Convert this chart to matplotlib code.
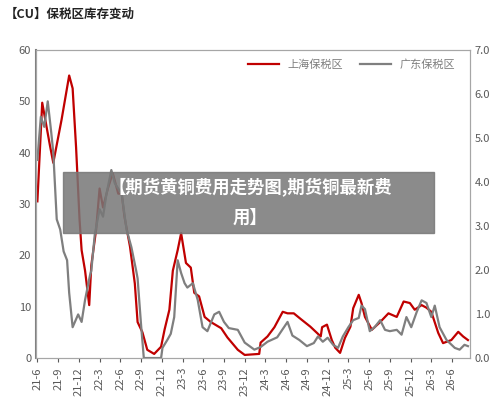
import matplotlib
matplotlib.use("Agg")
import matplotlib.pyplot as plt
from matplotlib.patches import Rectangle

plt.rcParams['font.family'] = ['Noto Sans CJK SC', 'DejaVu Sans']

# months since 2021-06
tick_labels = ['21-6','21-9','21-12','22-3','22-6','22-9','22-12','23-3','23-6','23-9','23-12',
               '24-3','24-6','24-9','24-12','25-3','25-6','25-9','25-12','26-3','26-6']

sh_month = [0,0.7,1.8,2.3,3.5,4.6,5.1,5.6,6.1,6.4,6.9,7.5,7.8,8.5,9,9.5,10.2,10.9,11.7,12.2,12.6,13.4,
            14.1,14.5,15.2,15.9,16.9,17.9,18.4,19.1,19.6,20.3,20.8,21.5,22.2,22.7,23.4,24.2,25.1,26.6,
            27.5,29,30,32.1,32.3,33.3,34.3,35.5,36.2,37.1,38.1,39.5,41,41.2,41.9,42.6,43.1,43.8,44.5,
            45.3,45.7,46.5,46.9,47.4,48.4,49.6,50.8,52,53,53.9,54.6,55.6,56.3,57,58,58.7,59.9,60.9,61.6,62.3]
sh_val = [30.5,49.7,41.5,38,46.4,55,52.5,41,27,21,17,10.3,18,25,33,29.3,33,36,32,32,27.5,21.7,
          14.5,7,5,1.6,0.8,2.2,5.5,9.4,17,21,24.3,18.5,17.6,12.7,12,8,7,5.8,
          4,1.6,0.6,0.8,3,4.2,6,9,8.7,8.7,7.6,6.1,4.2,6,6.5,3.5,2,1,3.9,
          6.1,9.7,12.3,10.7,8,5.5,7,8.7,8,11,10.7,9.4,10.3,9.8,9,4.9,2.9,3.5,5.1,4.2,3.5]

gd_month = [0,0.5,1,1.5,2,2.3,2.8,3.3,3.8,4.3,4.6,5.1,5.9,6.4,6.9,7.6,7.8,8.3,9,9.5,10,10.7,11.2,11.7,
            12.2,12.9,13.6,14.3,14.5,15,15.4,17.9,18.1,18.8,19.3,19.8,20.3,20.8,21.3,21.7,22.5,23.2,
            23.9,24.6,25.6,26.3,27,27.7,29,30,31.4,32.3,33.3,34.7,36.2,36.9,37.9,39,40,40.6,41.3,42,
            42.8,43.5,44.2,45,45.7,46.5,46.9,47.4,48.1,48.8,49.6,50.3,51,52,52.7,53.4,54.1,54.9,55.6,
            56.3,57,57.5,58.2,59.2,60.4,61.1,61.8,62.3]
gd_val = [4.50,5.48,5.25,5.83,5.13,4.67,3.15,2.92,2.42,2.22,1.48,0.70,0.99,0.82,1.32,1.87,1.98,2.80,
          3.38,3.21,3.73,4.27,3.97,3.85,3.73,2.92,2.52,1.98,1.81,0.76,0,0,0.23,0.41,0.55,0.93,2.22,
          1.93,1.70,1.60,1.70,1.32,0.70,0.61,0.99,1.05,0.82,0.68,0.64,0.35,0.19,0.25,0.37,0.47,0.82,
          0.51,0.41,0.27,0.34,0.49,0.37,0.46,0.30,0.23,0.49,0.70,0.86,0.91,1.19,1.11,0.61,0.70,0.86,
          0.64,0.61,0.64,0.53,0.93,0.70,1.05,1.31,1.25,0.93,1.19,0.70,0.41,0.23,0.19,0.30,0.27]

fig = plt.figure(figsize=(5, 4.05), dpi=100)
ax = fig.add_axes([0.072, 0.116, 0.868, 0.761])
ax2 = ax.twinx()

l1, = ax.plot(sh_month, sh_val, color='#C00000', lw=1.6, label='上海保税区')
l2, = ax2.plot(gd_month, gd_val, color='#7F7F7F', lw=1.6, label='广东保税区')

ax.set_xlim(-0.2, 62.6)
ax.set_ylim(0, 60)
ax2.set_ylim(0, 7)
ax.set_yticks(range(0, 61, 10))
ax2.set_yticks(range(0, 8))
ax2.set_yticklabels([f'{v:.1f}' for v in range(0, 8)])
ax.set_xticks(range(0, 61, 3))
ax.set_xticklabels(tick_labels, rotation=90)

for a in (ax, ax2):
    a.tick_params(labelsize=8, colors='#595959', length=0)
    for s in a.spines.values():
        s.set_color('#A6A6A6')
ax.tick_params(axis='x', length=3, colors='#595959')
ax.spines['left'].set_color('#7F7F7F')
ax.spines['left'].set_linewidth(1.5)

ax.legend(handles=[l1, l2], loc='upper right', ncol=2, frameon=False, fontsize=8,
          handlelength=2.8, columnspacing=1.5, bbox_to_anchor=(0.99, 1.0),
          labelcolor='#7F7F7F')

fig.text(0.01, 0.965, '【CU】保税区库存变动', fontsize=9, fontweight='bold', color='#222222', va='center')

fig.patches.append(Rectangle((0.126, 405 and (405-233)/405), (434-63)/500, 61/405,
                             transform=fig.transFigure, color='#777777', alpha=0.85, zorder=10))
fig.text(0.5, (405-187)/405, '【期货黄铜费用走势图,期货铜最新费', fontsize=12.5, fontweight='bold',
         color='white', ha='center', va='center', zorder=11)
fig.text(0.5, (405-218)/405, '用】', fontsize=12.5, fontweight='bold',
         color='white', ha='center', va='center', zorder=11)

fig.savefig('out.png', dpi=100)
